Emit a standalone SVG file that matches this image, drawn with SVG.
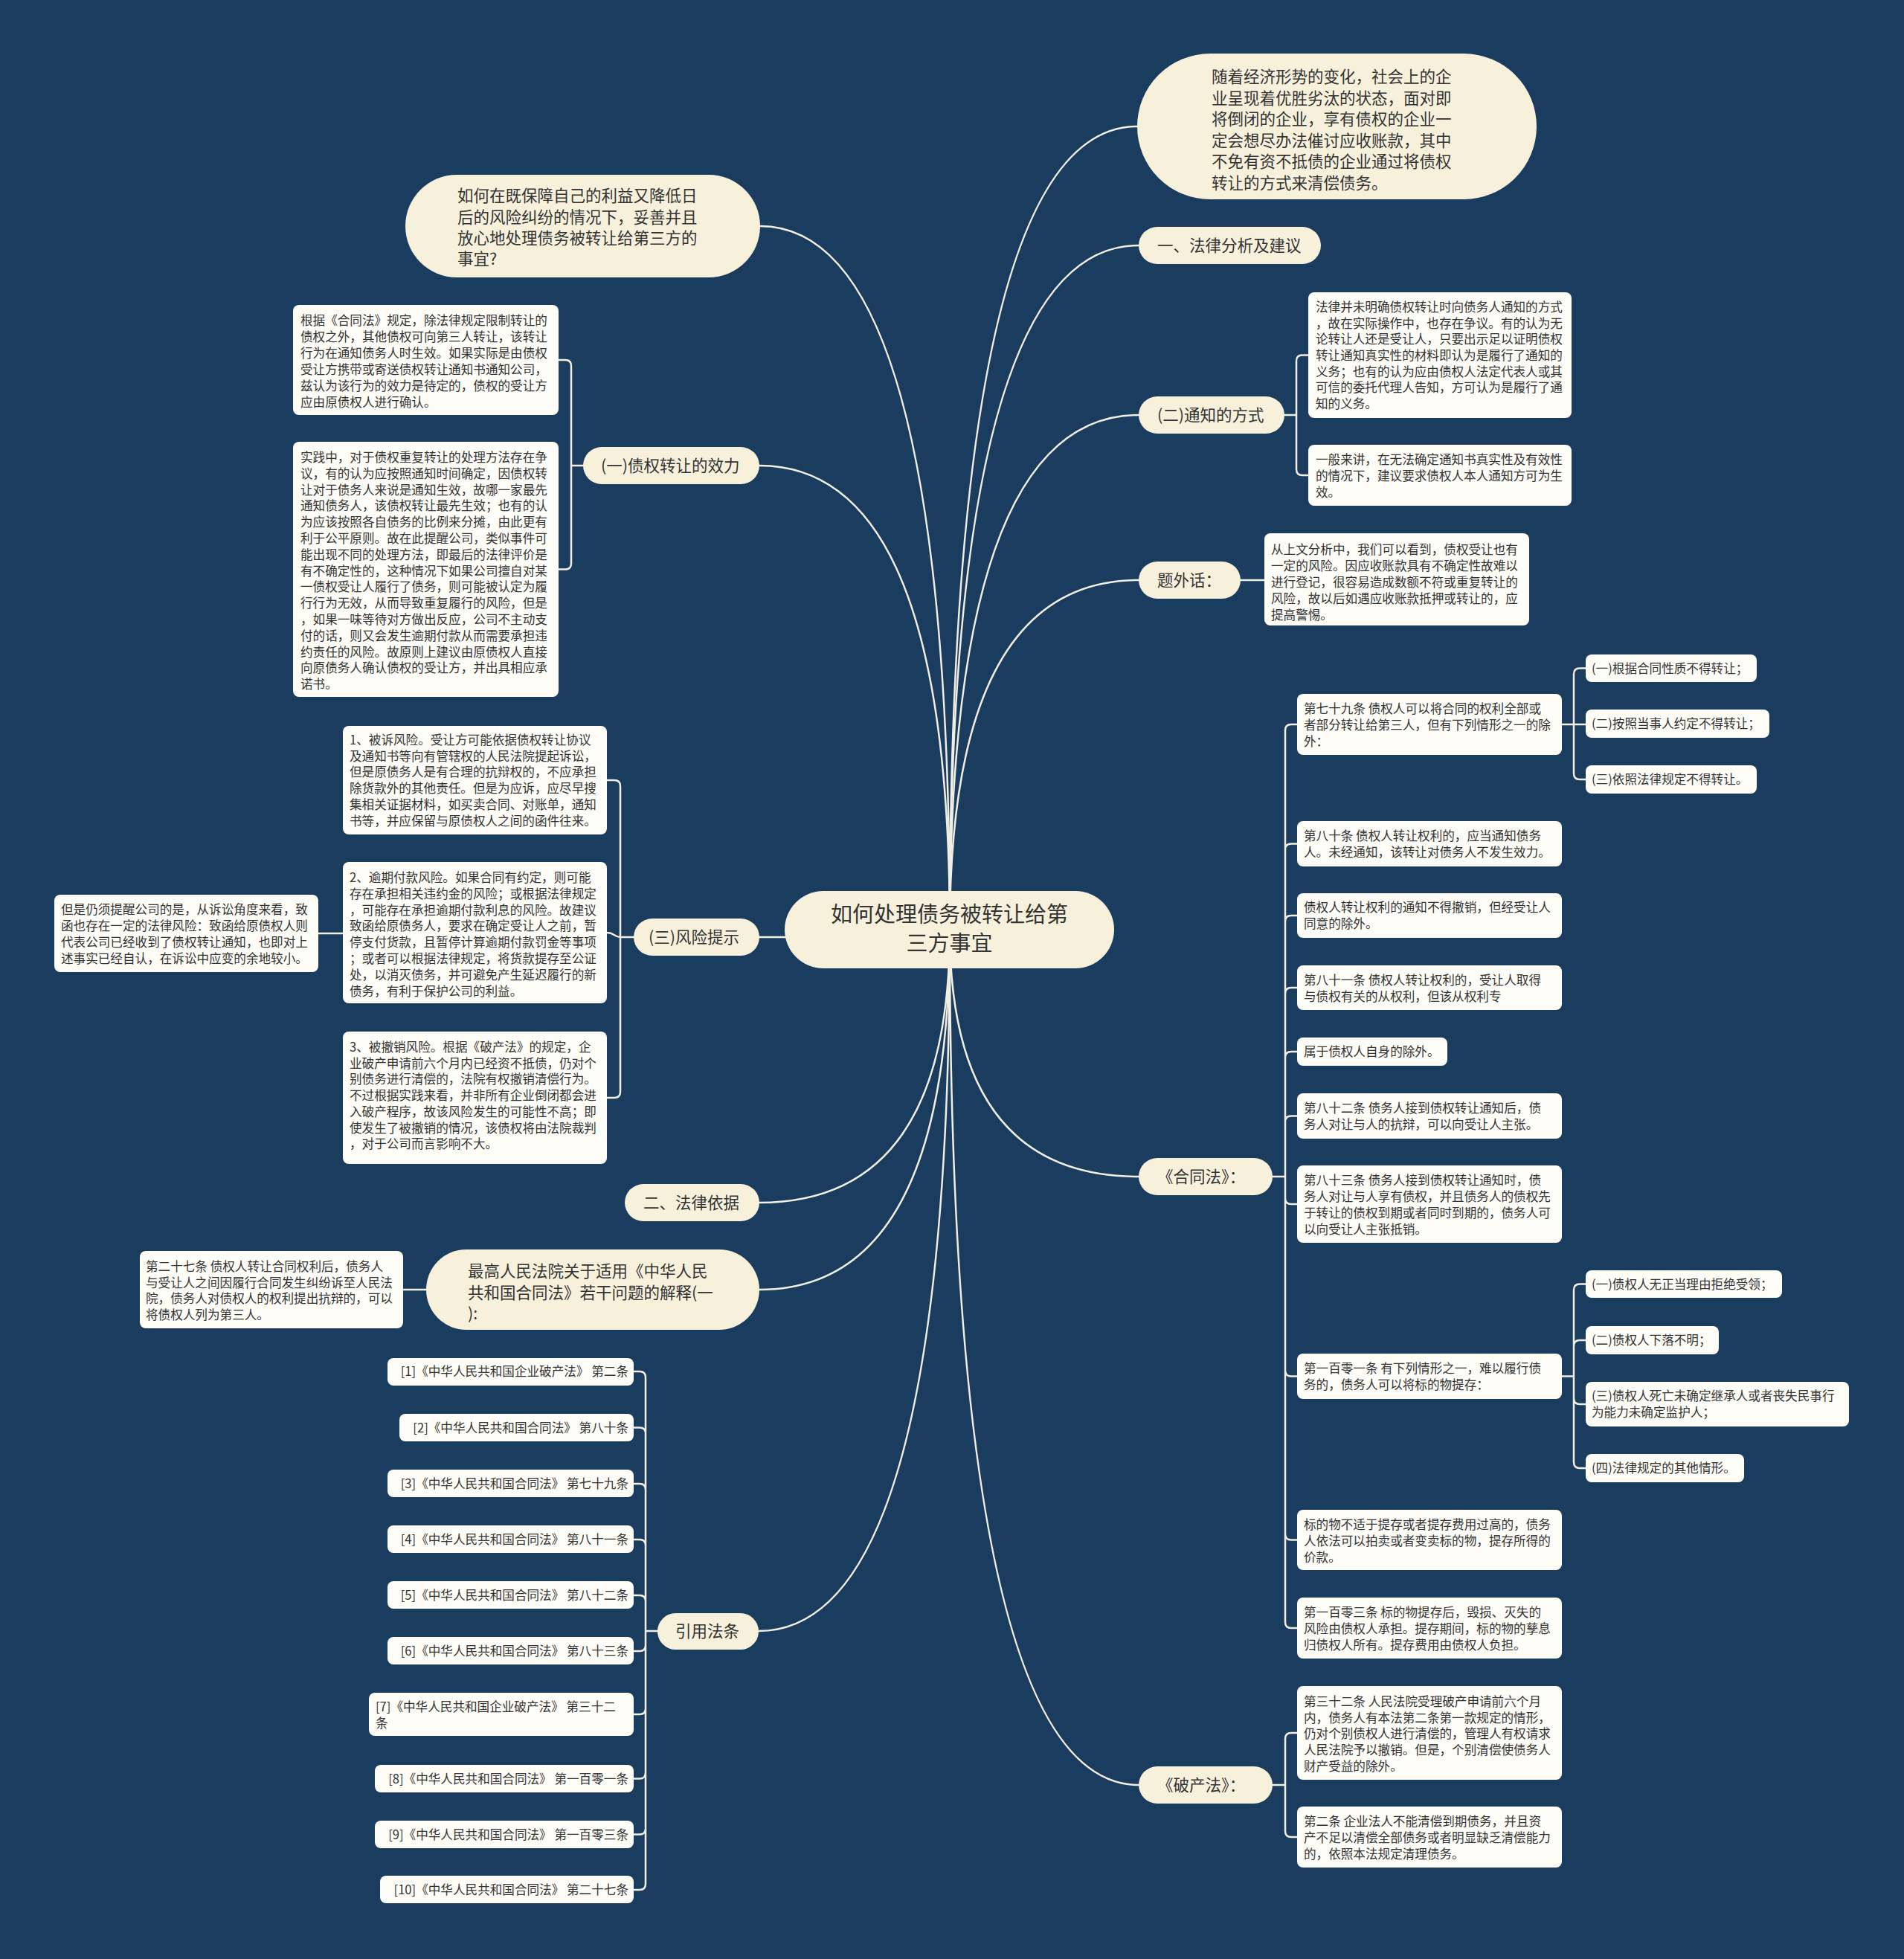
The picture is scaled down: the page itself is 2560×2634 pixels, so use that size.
<svg xmlns="http://www.w3.org/2000/svg" width="2560" height="2634" viewBox="0 0 2560 2634">
<style>
.pill{fill:#f7f1dc}
.box{fill:#fdfcf6}
.t{font-family:"Noto Sans CJK SC","Noto Sans",sans-serif;fill:#333333}
.t0{font-size:29px}
.t1{font-size:21.5px}
.t2{font-size:16.6px}
.ln{fill:none;stroke:#f1eee4;stroke-width:2.5;stroke-linecap:round}
</style>
<rect x="0" y="0" width="2560" height="2634" fill="#1a3c5e"/>
<g id="connectors" class="ln">
<path d="M1277,1250 Q1277,170 1529,170"/>
<path d="M1277,1250 Q1277,330 1531,330"/>
<path d="M1277,1250 Q1277,558 1531,558"/>
<path d="M1277,1250 Q1277,780 1531,780"/>
<path d="M1277,1250 Q1277,1582 1531,1582"/>
<path d="M1277,1250 Q1277,2400 1531,2400"/>
<path d="M1277,1250 Q1277,304 1022,304"/>
<path d="M1277,1250 Q1277,626 1021,626"/>
<path d="M1277,1250 Q1277,1260 1021,1260"/>
<path d="M1277,1250 Q1277,1617 1021,1617"/>
<path d="M1277,1250 Q1277,1734 1021,1734"/>
<path d="M1277,1250 Q1277,2193 1020,2193"/>
<path d="M1727,558 H1743 V485.5 Q1743,477.5 1751,477.5 H1759 M1727,558 H1743 V631 Q1743,639 1751,639 H1759"/>
<path d="M1668,780 H1700"/>
<path d="M1711,1582 H1728 V982 Q1728,974 1736,974 H1744 M1728,1582 V1142.5 Q1728,1134.5 1736,1134.5 H1744 M1728,1582 V1239 Q1728,1231 1736,1231 H1744 M1728,1582 V1336 Q1728,1328 1736,1328 H1744 M1728,1582 V1422 Q1728,1414 1736,1414 H1744 M1728,1582 V1508.5 Q1728,1500.5 1736,1500.5 H1744 M1728,1582 V1611 Q1728,1619 1736,1619 H1744 M1728,1582 V1842.5 Q1728,1850.5 1736,1850.5 H1744 M1728,1582 V2062.5 Q1728,2070.5 1736,2070.5 H1744 M1728,1582 V2181 Q1728,2189 1736,2189 H1744"/>
<path d="M2100,974 H2116 V906.5 Q2116,898.5 2124,898.5 H2132 M2116,974 H2132 M2116,974 V1040 Q2116,1048 2124,1048 H2132"/>
<path d="M2100,1850.5 H2116 V1734.5 Q2116,1726.5 2124,1726.5 H2132 M2116,1850.5 V1810 Q2116,1802 2124,1802 H2132 M2116,1850.5 V1880 Q2116,1888 2124,1888 H2132 M2116,1850.5 V1966 Q2116,1974 2124,1974 H2132"/>
<path d="M1711,2400 H1728 V2338 Q1728,2330 1736,2330 H1744 M1728,2400 V2462 Q1728,2470 1736,2470 H1744"/>
<path d="M784,626 H768 V492 Q768,484 760,484 H751 M768,626 V757.5 Q768,765.5 760,765.5 H751"/>
<path d="M852,1260 H834 V1057 Q834,1049 826,1049 H816 M834,1260 C826,1260 826,1254 816,1254 M834,1260 V1468 Q834,1476 826,1476 H816"/>
<path d="M461,1255 H428"/>
<path d="M573,1734 H542"/>
<path d="M884,2193 H868 V1852 Q868,1844 860,1844 H852 M868,2193 V1927.5 Q868,1919.5 860,1919.5 H852 M868,2193 V2003 Q868,1995 860,1995 H852 M868,2193 V2078 Q868,2070 860,2070 H852 M868,2193 V2153 Q868,2145 860,2145 H852 M868,2193 V2212 Q868,2220 860,2220 H852 M868,2193 V2297 Q868,2305 860,2305 H852 M868,2193 V2383.5 Q868,2391.5 860,2391.5 H852 M868,2193 V2458.5 Q868,2466.5 860,2466.5 H852 M868,2193 V2533 Q868,2541 860,2541 H852"/>
</g>

<g id="root">
<rect class="pill" x="1055" y="1198" width="443" height="104" rx="52"/>
<text class="t t0" x="1276.5" y="1240" text-anchor="middle">如何处理债务被转让给第</text>
<text class="t t0" x="1276.5" y="1279" text-anchor="middle">三方事宜</text>
</g>

<g id="n-intro">
<rect class="pill" x="1529" y="72" width="537" height="196" rx="98"/>
<text class="t t1" x="1629" y="111">随着经济形势的变化，社会上的企</text>
<text class="t t1" x="1629" y="139.5">业呈现着优胜劣汰的状态，面对即</text>
<text class="t t1" x="1629" y="168">将倒闭的企业，享有债权的企业一</text>
<text class="t t1" x="1629" y="196.5">定会想尽办法催讨应收账款，其中</text>
<text class="t t1" x="1629" y="225">不免有资不抵债的企业通过将债权</text>
<text class="t t1" x="1629" y="253.5">转让的方式来清偿债务。</text>
</g>

<g id="n-analysis">
<rect class="pill" x="1531" y="305" width="245" height="50" rx="25"/>
<text class="t t1" x="1556" y="338">一、法律分析及建议</text>
</g>

<g id="n-notice">
<rect class="pill" x="1531" y="533" width="196" height="50" rx="25"/>
<text class="t t1" x="1556" y="566">(二)通知的方式</text>
</g>
<g id="n-notice-1">
<rect class="box" x="1759" y="393" width="354" height="169" rx="8"/>
<text class="t t2" x="1769" y="419">法律并未明确债权转让时向债务人通知的方式</text>
<text class="t t2" x="1769" y="441">，故在实际操作中，也存在争议。有的认为无</text>
<text class="t t2" x="1769" y="462">论转让人还是受让人，只要出示足以证明债权</text>
<text class="t t2" x="1769" y="484">转让通知真实性的材料即认为是履行了通知的</text>
<text class="t t2" x="1769" y="506">义务；也有的认为应由债权人法定代表人或其</text>
<text class="t t2" x="1769" y="527">可信的委托代理人告知，方可认为是履行了通</text>
<text class="t t2" x="1769" y="549">知的义务。</text>
</g>
<g id="n-notice-2">
<rect class="box" x="1759" y="598" width="354" height="82" rx="8"/>
<text class="t t2" x="1769" y="624">一般来讲，在无法确定通知书真实性及有效性</text>
<text class="t t2" x="1769" y="646">的情况下，建议要求债权人本人通知方可为生</text>
<text class="t t2" x="1769" y="668">效。</text>
</g>

<g id="n-aside">
<rect class="pill" x="1531" y="755" width="137" height="50" rx="25"/>
<text class="t t1" x="1556" y="788">题外话：</text>
</g>
<g id="n-aside-1">
<rect class="box" x="1700" y="717" width="356" height="124" rx="8"/>
<text class="t t2" x="1709" y="745">从上文分析中，我们可以看到，债权受让也有</text>
<text class="t t2" x="1709" y="767">一定的风险。因应收账款具有不确定性故难以</text>
<text class="t t2" x="1709" y="789">进行登记，很容易造成数额不符或重复转让的</text>
<text class="t t2" x="1709" y="811">风险，故以后如遇应收账款抵押或转让的，应</text>
<text class="t t2" x="1709" y="833">提高警惕。</text>
</g>

<g id="n-contract">
<rect class="pill" x="1531" y="1557" width="180" height="50" rx="25"/>
<text class="t t1" x="1556" y="1590">《合同法》：</text>
</g>
<g id="n-a79">
<rect class="box" x="1744" y="933" width="356" height="82" rx="8"/>
<text class="t t2" x="1753" y="959">第七十九条 债权人可以将合同的权利全部或</text>
<text class="t t2" x="1753" y="981">者部分转让给第三人，但有下列情形之一的除</text>
<text class="t t2" x="1753" y="1003">外：</text>
</g>
<g id="n-a79-1">
<rect class="box" x="2132" y="880" width="230" height="37" rx="8"/>
<text class="t t2" x="2140" y="904.5">(一)根据合同性质不得转让；</text>
</g>
<g id="n-a79-2">
<rect class="box" x="2132" y="954" width="247" height="38" rx="8"/>
<text class="t t2" x="2140" y="979">(二)按照当事人约定不得转让；</text>
</g>
<g id="n-a79-3">
<rect class="box" x="2132" y="1029" width="230" height="38" rx="8"/>
<text class="t t2" x="2140" y="1054">(三)依照法律规定不得转让。</text>
</g>
<g id="n-a80">
<rect class="box" x="1744" y="1104" width="356" height="61" rx="8"/>
<text class="t t2" x="1753" y="1130">第八十条 债权人转让权利的，应当通知债务</text>
<text class="t t2" x="1753" y="1152">人。未经通知，该转让对债务人不发生效力。</text>
</g>
<g id="n-a80b">
<rect class="box" x="1744" y="1201" width="356" height="60" rx="8"/>
<text class="t t2" x="1753" y="1226">债权人转让权利的通知不得撤销，但经受让人</text>
<text class="t t2" x="1753" y="1248">同意的除外。</text>
</g>
<g id="n-a81">
<rect class="box" x="1744" y="1298" width="356" height="60" rx="8"/>
<text class="t t2" x="1753" y="1324">第八十一条 债权人转让权利的，受让人取得</text>
<text class="t t2" x="1753" y="1346">与债权有关的从权利，但该从权利专</text>
</g>
<g id="n-a81b">
<rect class="box" x="1744" y="1395" width="202" height="38" rx="8"/>
<text class="t t2" x="1753" y="1420">属于债权人自身的除外。</text>
</g>
<g id="n-a82">
<rect class="box" x="1744" y="1470" width="356" height="61" rx="8"/>
<text class="t t2" x="1753" y="1496">第八十二条 债务人接到债权转让通知后，债</text>
<text class="t t2" x="1753" y="1518">务人对让与人的抗辩，可以向受让人主张。</text>
</g>
<g id="n-a83">
<rect class="box" x="1744" y="1567" width="356" height="104" rx="8"/>
<text class="t t2" x="1753" y="1593">第八十三条 债务人接到债权转让通知时，债</text>
<text class="t t2" x="1753" y="1615">务人对让与人享有债权，并且债务人的债权先</text>
<text class="t t2" x="1753" y="1637">于转让的债权到期或者同时到期的，债务人可</text>
<text class="t t2" x="1753" y="1659">以向受让人主张抵销。</text>
</g>
<g id="n-a101">
<rect class="box" x="1744" y="1820" width="356" height="61" rx="8"/>
<text class="t t2" x="1753" y="1846">第一百零一条 有下列情形之一，难以履行债</text>
<text class="t t2" x="1753" y="1868">务的，债务人可以将标的物提存：</text>
</g>
<g id="n-a101-1">
<rect class="box" x="2132" y="1708" width="264" height="37" rx="8"/>
<text class="t t2" x="2140" y="1732.5">(一)债权人无正当理由拒绝受领；</text>
</g>
<g id="n-a101-2">
<rect class="box" x="2132" y="1783" width="179" height="38" rx="8"/>
<text class="t t2" x="2140" y="1808">(二)债权人下落不明；</text>
</g>
<g id="n-a101-3">
<rect class="box" x="2132" y="1858" width="354" height="60" rx="8"/>
<text class="t t2" x="2140" y="1883">(三)债权人死亡未确定继承人或者丧失民事行</text>
<text class="t t2" x="2140" y="1905">为能力未确定监护人；</text>
</g>
<g id="n-a101-4">
<rect class="box" x="2132" y="1955" width="213" height="38" rx="8"/>
<text class="t t2" x="2140" y="1980">(四)法律规定的其他情形。</text>
</g>
<g id="n-a102">
<rect class="box" x="1744" y="2030" width="356" height="81" rx="8"/>
<text class="t t2" x="1753" y="2056">标的物不适于提存或者提存费用过高的，债务</text>
<text class="t t2" x="1753" y="2078">人依法可以拍卖或者变卖标的物，提存所得的</text>
<text class="t t2" x="1753" y="2100">价款。</text>
</g>
<g id="n-a103">
<rect class="box" x="1744" y="2148" width="356" height="82" rx="8"/>
<text class="t t2" x="1753" y="2174">第一百零三条 标的物提存后，毁损、灭失的</text>
<text class="t t2" x="1753" y="2196">风险由债权人承担。提存期间，标的物的孳息</text>
<text class="t t2" x="1753" y="2218">归债权人所有。提存费用由债权人负担。</text>
</g>

<g id="n-bankrupt">
<rect class="pill" x="1531" y="2375" width="180" height="50" rx="25"/>
<text class="t t1" x="1556" y="2408">《破产法》：</text>
</g>
<g id="n-b32">
<rect class="box" x="1744" y="2267" width="356" height="126" rx="8"/>
<text class="t t2" x="1753" y="2294">第三十二条 人民法院受理破产申请前六个月</text>
<text class="t t2" x="1753" y="2316">内，债务人有本法第二条第一款规定的情形，</text>
<text class="t t2" x="1753" y="2337">仍对个别债权人进行清偿的，管理人有权请求</text>
<text class="t t2" x="1753" y="2359">人民法院予以撤销。但是，个别清偿使债务人</text>
<text class="t t2" x="1753" y="2381">财产受益的除外。</text>
</g>
<g id="n-b2">
<rect class="box" x="1744" y="2429" width="356" height="82" rx="8"/>
<text class="t t2" x="1753" y="2455">第二条 企业法人不能清偿到期债务，并且资</text>
<text class="t t2" x="1753" y="2477">产不足以清偿全部债务或者明显缺乏清偿能力</text>
<text class="t t2" x="1753" y="2499">的，依照本法规定清理债务。</text>
</g>

<g id="n-question">
<rect class="pill" x="545" y="235" width="477" height="138" rx="69"/>
<text class="t t1" x="615" y="271">如何在既保障自己的利益又降低日</text>
<text class="t t1" x="615" y="299.5">后的风险纠纷的情况下，妥善并且</text>
<text class="t t1" x="615" y="328">放心地处理债务被转让给第三方的</text>
<text class="t t1" x="615" y="356">事宜?</text>
</g>

<g id="n-effect">
<rect class="pill" x="784" y="601" width="237" height="50" rx="25"/>
<text class="t t1" x="808" y="634">(一)债权转让的效力</text>
</g>
<g id="n-effect-1">
<rect class="box" x="394" y="410" width="357" height="148" rx="8"/>
<text class="t t2" x="404" y="437">根据《合同法》规定，除法律规定限制转让的</text>
<text class="t t2" x="404" y="459">债权之外，其他债权可向第三人转让，该转让</text>
<text class="t t2" x="404" y="481">行为在通知债务人时生效。如果实际是由债权</text>
<text class="t t2" x="404" y="503">受让方携带或寄送债权转让通知书通知公司，</text>
<text class="t t2" x="404" y="525">兹认为该行为的效力是待定的，债权的受让方</text>
<text class="t t2" x="404" y="547">应由原债权人进行确认。</text>
</g>
<g id="n-effect-2">
<rect class="box" x="394" y="594" width="357" height="343" rx="8"/>
<text class="t t2" x="404" y="621">实践中，对于债权重复转让的处理方法存在争</text>
<text class="t t2" x="404" y="642.8">议，有的认为应按照通知时间确定，因债权转</text>
<text class="t t2" x="404" y="664.6">让对于债务人来说是通知生效，故哪一家最先</text>
<text class="t t2" x="404" y="686.4">通知债务人，该债权转让最先生效；也有的认</text>
<text class="t t2" x="404" y="708.2">为应该按照各自债务的比例来分摊，由此更有</text>
<text class="t t2" x="404" y="730">利于公平原则。故在此提醒公司，类似事件可</text>
<text class="t t2" x="404" y="751.8">能出现不同的处理方法，即最后的法律评价是</text>
<text class="t t2" x="404" y="773.6">有不确定性的，这种情况下如果公司擅自对某</text>
<text class="t t2" x="404" y="795.4">一债权受让人履行了债务，则可能被认定为履</text>
<text class="t t2" x="404" y="817.2">行行为无效，从而导致重复履行的风险，但是</text>
<text class="t t2" x="404" y="839">，如果一味等待对方做出反应，公司不主动支</text>
<text class="t t2" x="404" y="860.8">付的话，则又会发生逾期付款从而需要承担违</text>
<text class="t t2" x="404" y="882.6">约责任的风险。故原则上建议由原债权人直接</text>
<text class="t t2" x="404" y="904.4">向原债务人确认债权的受让方，并出具相应承</text>
<text class="t t2" x="404" y="926.2">诺书。</text>
</g>

<g id="n-risk">
<rect class="pill" x="852" y="1235" width="169" height="50" rx="25"/>
<text class="t t1" x="872" y="1268">(三)风险提示</text>
</g>
<g id="n-risk-1">
<rect class="box" x="461" y="976" width="355" height="146" rx="8"/>
<text class="t t2" x="470" y="1001">1、被诉风险。受让方可能依据债权转让协议</text>
<text class="t t2" x="470" y="1022.7">及通知书等向有管辖权的人民法院提起诉讼，</text>
<text class="t t2" x="470" y="1044.4">但是原债务人是有合理的抗辩权的，不应承担</text>
<text class="t t2" x="470" y="1066.1">除货款外的其他责任。但是为应诉，应尽早搜</text>
<text class="t t2" x="470" y="1087.8">集相关证据材料，如买卖合同、对账单，通知</text>
<text class="t t2" x="470" y="1109.5">书等，并应保留与原债权人之间的函件往来。</text>
</g>
<g id="n-risk-2">
<rect class="box" x="461" y="1159" width="355" height="190" rx="8"/>
<text class="t t2" x="470" y="1186">2、逾期付款风险。如果合同有约定，则可能</text>
<text class="t t2" x="470" y="1207.8">存在承担相关违约金的风险；或根据法律规定</text>
<text class="t t2" x="470" y="1229.6">，可能存在承担逾期付款利息的风险。故建议</text>
<text class="t t2" x="470" y="1251.4">致函给原债务人，要求在确定受让人之前，暂</text>
<text class="t t2" x="470" y="1273.2">停支付货款，且暂停计算逾期付款罚金等事项</text>
<text class="t t2" x="470" y="1295">；或者可以根据法律规定，将货款提存至公证</text>
<text class="t t2" x="470" y="1316.8">处，以消灭债务，并可避免产生延迟履行的新</text>
<text class="t t2" x="470" y="1338.6">债务，有利于保护公司的利益。</text>
</g>
<g id="n-risk-3">
<rect class="box" x="461" y="1387" width="355" height="178" rx="8"/>
<text class="t t2" x="470" y="1414">3、被撤销风险。根据《破产法》的规定，企</text>
<text class="t t2" x="470" y="1435.7">业破产申请前六个月内已经资不抵债，仍对个</text>
<text class="t t2" x="470" y="1457.4">别债务进行清偿的，法院有权撤销清偿行为。</text>
<text class="t t2" x="470" y="1479.1">不过根据实践来看，并非所有企业倒闭都会进</text>
<text class="t t2" x="470" y="1500.8">入破产程序，故该风险发生的可能性不高；即</text>
<text class="t t2" x="470" y="1522.5">使发生了被撤销的情况，该债权将由法院裁判</text>
<text class="t t2" x="470" y="1544.2">，对于公司而言影响不大。</text>
</g>
<g id="n-risk-2a">
<rect class="box" x="73" y="1203" width="355" height="104" rx="8"/>
<text class="t t2" x="82" y="1229">但是仍须提醒公司的是，从诉讼角度来看，致</text>
<text class="t t2" x="82" y="1251">函也存在一定的法律风险：致函给原债权人则</text>
<text class="t t2" x="82" y="1273">代表公司已经收到了债权转让通知，也即对上</text>
<text class="t t2" x="82" y="1295">述事实已经自认，在诉讼中应变的余地较小。</text>
</g>

<g id="n-basis">
<rect class="pill" x="840" y="1592" width="181" height="50" rx="25"/>
<text class="t t1" x="865" y="1625">二、法律依据</text>
</g>

<g id="n-interp">
<rect class="pill" x="573" y="1680" width="448" height="108" rx="54"/>
<text class="t t1" x="629" y="1717">最高人民法院关于适用《中华人民</text>
<text class="t t1" x="629" y="1745.5">共和国合同法》若干问题的解释(一</text>
<text class="t t1" x="629" y="1774">):</text>
</g>
<g id="n-interp-1">
<rect class="box" x="188" y="1682" width="354" height="104" rx="8"/>
<text class="t t2" x="196" y="1709">第二十七条 债权人转让合同权利后，债务人</text>
<text class="t t2" x="196" y="1730.5">与受让人之间因履行合同发生纠纷诉至人民法</text>
<text class="t t2" x="196" y="1752">院，债务人对债权人的权利提出抗辩的，可以</text>
<text class="t t2" x="196" y="1773.5">将债权人列为第三人。</text>
</g>

<g id="n-cite">
<rect class="pill" x="884" y="2169" width="136" height="49" rx="24.5"/>
<text class="t t1" x="908" y="2201">引用法条</text>
</g>
<g id="n-cite-1">
<rect class="box" x="521" y="1826" width="331" height="37" rx="8"/>
<text class="t t2" x="845" y="1850" text-anchor="end">[1]《中华人民共和国企业破产法》 第二条</text>
</g>
<g id="n-cite-2">
<rect class="box" x="537" y="1901" width="315" height="37" rx="8"/>
<text class="t t2" x="845" y="1925.5" text-anchor="end">[2]《中华人民共和国合同法》 第八十条</text>
</g>
<g id="n-cite-3">
<rect class="box" x="521" y="1976" width="331" height="37" rx="8"/>
<text class="t t2" x="845" y="2001" text-anchor="end">[3]《中华人民共和国合同法》 第七十九条</text>
</g>
<g id="n-cite-4">
<rect class="box" x="521" y="2051" width="331" height="37" rx="8"/>
<text class="t t2" x="845" y="2076" text-anchor="end">[4]《中华人民共和国合同法》 第八十一条</text>
</g>
<g id="n-cite-5">
<rect class="box" x="521" y="2126" width="331" height="37" rx="8"/>
<text class="t t2" x="845" y="2151" text-anchor="end">[5]《中华人民共和国合同法》 第八十二条</text>
</g>
<g id="n-cite-6">
<rect class="box" x="521" y="2201" width="331" height="37" rx="8"/>
<text class="t t2" x="845" y="2226" text-anchor="end">[6]《中华人民共和国合同法》 第八十三条</text>
</g>
<g id="n-cite-7">
<rect class="box" x="496" y="2276" width="356" height="58" rx="8"/>
<text class="t t2" x="505" y="2301">[7]《中华人民共和国企业破产法》 第三十二</text>
<text class="t t2" x="505" y="2323">条</text>
</g>
<g id="n-cite-8">
<rect class="box" x="504" y="2373" width="348" height="37" rx="8"/>
<text class="t t2" x="845" y="2397.5" text-anchor="end">[8]《中华人民共和国合同法》 第一百零一条</text>
</g>
<g id="n-cite-9">
<rect class="box" x="504" y="2448" width="348" height="37" rx="8"/>
<text class="t t2" x="845" y="2472.5" text-anchor="end">[9]《中华人民共和国合同法》 第一百零三条</text>
</g>
<g id="n-cite-10">
<rect class="box" x="511" y="2522" width="341" height="37" rx="8"/>
<text class="t t2" x="845" y="2547" text-anchor="end">[10]《中华人民共和国合同法》 第二十七条</text>
</g>
</svg>
